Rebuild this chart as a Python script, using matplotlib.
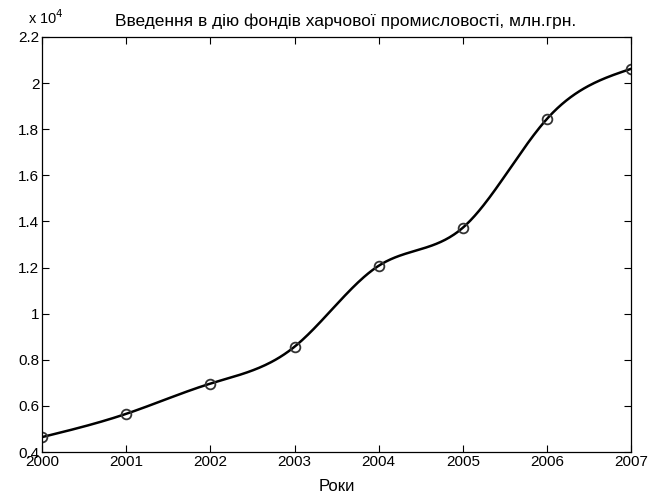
import numpy as np
import matplotlib
matplotlib.use("Agg")
import matplotlib.pyplot as plt

# ============================
# DATA (x 10^4 млн.грн.)
# ============================
years = [2000, 2001, 2002, 2003, 2004, 2005, 2006, 2007]
values = [0.465, 0.566, 0.697, 0.857, 1.208, 1.373, 1.845, 2.062]

y_ticks = [0.4, 0.6, 0.8, 1.0, 1.2, 1.4, 1.6, 1.8, 2.0, 2.2]
y_ticklabels = ["0.4", "0.6", "0.8", "1", "1.2", "1.4", "1.6", "1.8", "2", "2.2"]

title = "Введення в дію фондів харчової промисловості, млн.грн."
xlabel = "Роки"


# ============================
# HELPERS
# ============================
def natural_spline(x, y, n=400):
    # smooth line through the points (like MATLAB spline plot)
    x = np.asarray(x, float)
    y = np.asarray(y, float)
    k = len(x)
    h = np.diff(x)
    A = np.zeros((k, k))
    b = np.zeros(k)
    A[0, 0] = 1.0
    A[-1, -1] = 1.0
    for i in range(1, k - 1):
        A[i, i - 1] = h[i - 1]
        A[i, i] = 2 * (h[i - 1] + h[i])
        A[i, i + 1] = h[i]
        b[i] = 3 * ((y[i + 1] - y[i]) / h[i] - (y[i] - y[i - 1]) / h[i - 1])
    c = np.linalg.solve(A, b)
    xs = np.linspace(x[0], x[-1], n)
    ys = np.empty_like(xs)
    for j, xv in enumerate(xs):
        i = min(np.searchsorted(x, xv, side="right") - 1, k - 2)
        d = xv - x[i]
        bb = (y[i + 1] - y[i]) / h[i] - h[i] * (2 * c[i] + c[i + 1]) / 3
        dd = (c[i + 1] - c[i]) / (3 * h[i])
        ys[j] = y[i] + bb * d + c[i] * d ** 2 + dd * d ** 3
    return xs, ys


plt.rcParams["font.family"] = ["Liberation Sans", "DejaVu Sans"]

fig = plt.figure(figsize=(6.48, 4.93), dpi=100)
ax = fig.add_axes([0.065, 0.083, 0.909, 0.842])

xs, ys = natural_spline(years, values)
ax.plot(xs, ys, color="black", linewidth=1.8)
ax.plot(years, values, linestyle="none", marker="o", markersize=7,
        markerfacecolor="none", markeredgecolor="#333333", markeredgewidth=1.3)

ax.set_xlim(2000, 2007)
ax.set_ylim(0.4, 2.2)
ax.set_xticks(years)
ax.set_xticklabels([str(y) for y in years])
ax.set_yticks(y_ticks)
ax.set_yticklabels(y_ticklabels)

ax.tick_params(direction="in", top=True, right=True, length=5, width=0.8,
               labelsize=11, pad=2)
for s in ax.spines.values():
    s.set_linewidth(0.9)

fig.text(0.52, 0.004, xlabel, fontsize=12, ha="center", va="baseline")

fig.text(0.043, 0.952, r"x 10$^4$", fontsize=10.5, ha="left", va="baseline")
fig.text(0.178, 0.947, title, fontsize=12.5, ha="left", va="baseline")

fig.savefig("out.png", dpi=100)
